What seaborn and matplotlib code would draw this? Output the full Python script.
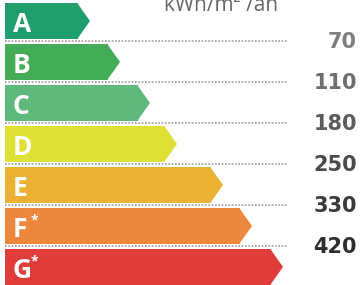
import matplotlib
matplotlib.use("Agg")
import matplotlib.pyplot as plt
import seaborn as sns
from matplotlib.patches import Polygon

# energy classes, arrow lengths and class limits (kWh/m2/an)
letters = ['A', 'B', 'C', 'D', 'E', 'F*', 'G*']
arrow_len = [85, 115, 145, 172, 218, 247, 278]
limits = [70, 110, 180, 250, 330, 420]
colors = ['#1f9d6c', '#44ac57', '#5fb97c', '#dfe035', '#ebb132', '#ec873e', '#e03c3a']
value_colors = ['#7e7e7e', '#6e6e6e', '#5c5c5c', '#4a4a4a', '#3a3a3a', '#2e2e2e']
unit = 'kWh/m² /an'

tip = 12
body = [v - tip for v in arrow_len]

sns.set_style('white')
fig = plt.figure(figsize=(3.62, 2.85), dpi=100)
ax = fig.add_axes([0, 0, 1, 1])

sns.barplot(x=body, y=letters, hue=letters, palette=colors, orient='h',
            width=0.86, saturation=1, legend=False, linewidth=0, ax=ax)

# arrow heads
for p in sorted(ax.patches, key=lambda r: r.get_y()):
    x0, w, y0, h = p.get_x(), p.get_width(), p.get_y(), p.get_height()
    ax.add_patch(Polygon([(x0 + w - 0.5, y0), (x0 + w + tip, y0 + h / 2), (x0 + w - 0.5, y0 + h)],
                         closed=True, facecolor=p.get_facecolor(), edgecolor='none'))

# class letters
for i, lab in enumerate(letters):
    base = lab.replace('*', '')
    ax.text(8, i + 0.27, base, color='white', fontsize=19, fontweight='bold',
            family='Open Sans', ha='left', va='baseline')
    if '*' in lab:
        ax.text(26, i - 0.13, '*', color='white', fontsize=10, fontweight='bold',
                family='Open Sans', ha='left', va='center')

# dotted separators and limit values
for i, v in enumerate(limits):
    ax.plot([0, 283], [i + 0.5, i + 0.5], color='#9a9a9a', linestyle=(0, (1, 1)), linewidth=1.2)
    ax.text(352, i + 0.66, str(v), color=value_colors[i], fontsize=15, fontweight='bold',
            family='DejaVu Sans', ha='right', va='baseline')

ax.text(216, -0.24, unit, color='#666666', fontsize=15, family='Open Sans',
        ha='center', va='baseline')

ax.set_xlim(-5, 357)
ax.set_ylim(6.44, -0.512)
ax.axis('off')

fig.savefig('out.png', dpi=100)
